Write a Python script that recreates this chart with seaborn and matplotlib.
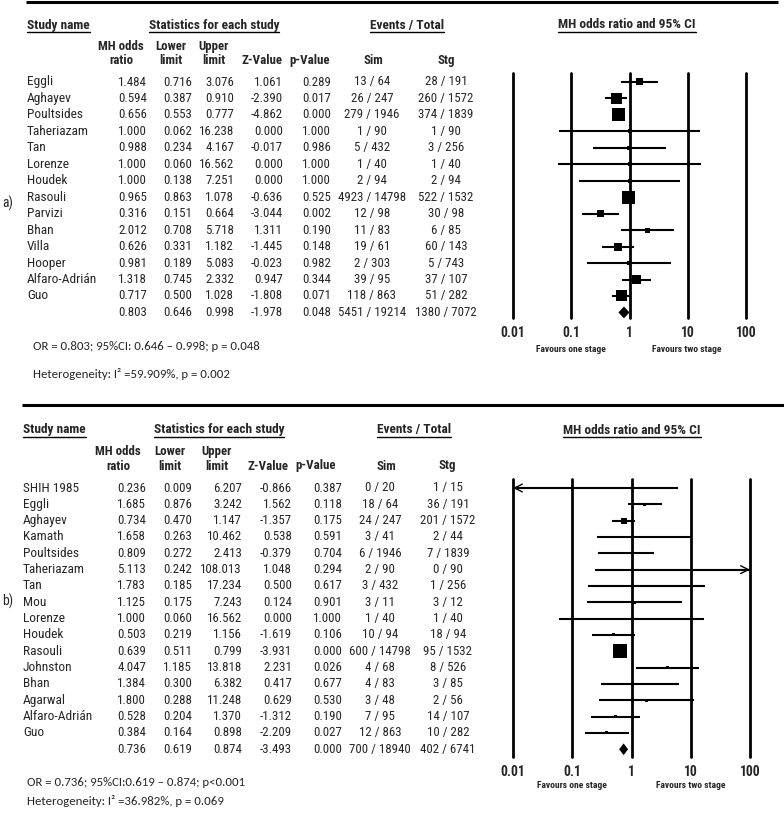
import matplotlib
matplotlib.use('Agg')
import matplotlib.pyplot as plt
import seaborn as sns

## ==============================
## 데이터 (a: 전체, b: 두 번째 분석)
names_a = ['Eggli', 'Aghayev', 'Poultsides', 'Taheriazam', 'Tan', 'Lorenze', 'Houdek',
           'Rasouli', 'Parvizi', 'Bhan', 'Villa', 'Hooper', 'Alfaro-Adrián', 'Guo']
or_a = [1.484, 0.594, 0.656, 1.000, 0.988, 1.000, 1.000, 0.965, 0.316, 2.012, 0.626, 0.981, 1.318, 0.717]
lo_a = [0.716, 0.387, 0.553, 0.062, 0.234, 0.060, 0.138, 0.863, 0.151, 0.708, 0.331, 0.189, 0.745, 0.500]
hi_a = [3.076, 0.910, 0.777, 16.238, 4.167, 16.562, 7.251, 1.078, 0.664, 5.718, 1.182, 5.083, 2.332, 1.028]
z_a = [1.061, -2.390, -4.862, 0.000, -0.017, 0.000, 0.000, -0.636, -3.044, 1.311, -1.445, -0.023, 0.947, -1.808]
p_a = [0.289, 0.017, 0.000, 1.000, 0.986, 1.000, 1.000, 0.525, 0.002, 0.190, 0.148, 0.982, 0.344, 0.071]
sim_a = ['13 / 64', '26 / 247', '279 / 1946', '1 / 90', '5 / 432', '1 / 40', '2 / 94', '4923 / 14798',
         '12 / 98', '11 / 83', '19 / 61', '2 / 303', '39 / 95', '118 / 863']
stg_a = ['28 / 191', '260 / 1572', '374 / 1839', '1 / 90', '3 / 256', '1 / 40', '2 / 94', '522 / 1532',
         '30 / 98', '6 / 85', '60 / 143', '5 / 743', '37 / 107', '51 / 282']
pooled_a = [0.803, 0.646, 0.998, -1.978, 0.048]
pooled_ev_a = ['5451 / 19214', '1380 / 7072']
note_a = ['OR = 0.803; 95%CI: 0.646 – 0.998; p = 0.048', 'Heterogeneity: I² =59.909%, p = 0.002']

names_b = ['SHIH 1985', 'Eggli', 'Aghayev', 'Kamath', 'Poultsides', 'Taheriazam', 'Tan', 'Mou', 'Lorenze',
           'Houdek', 'Rasouli', 'Johnston', 'Bhan', 'Agarwal', 'Alfaro-Adrián', 'Guo']
or_b = [0.236, 1.685, 0.734, 1.658, 0.809, 5.113, 1.783, 1.125, 1.000, 0.503, 0.639, 4.047, 1.384, 1.800, 0.528, 0.384]
lo_b = [0.009, 0.876, 0.470, 0.263, 0.272, 0.242, 0.185, 0.175, 0.060, 0.219, 0.511, 1.185, 0.300, 0.288, 0.204, 0.164]
hi_b = [6.207, 3.242, 1.147, 10.462, 2.413, 108.013, 17.234, 7.243, 16.562, 1.156, 0.799, 13.818, 6.382, 11.248, 1.370, 0.898]
z_b = [-0.866, 1.562, -1.357, 0.538, -0.379, 1.048, 0.500, 0.124, 0.000, -1.619, -3.931, 2.231, 0.417, 0.629, -1.312, -2.209]
p_b = [0.387, 0.118, 0.175, 0.591, 0.704, 0.294, 0.617, 0.901, 1.000, 0.106, 0.000, 0.026, 0.677, 0.530, 0.190, 0.027]
sim_b = ['0 / 20', '18 / 64', '24 / 247', '3 / 41', '6 / 1946', '2 / 90', '3 / 432', '3 / 11', '1 / 40',
         '10 / 94', '600 / 14798', '4 / 68', '4 / 83', '3 / 48', '7 / 95', '12 / 863']
stg_b = ['1 / 15', '36 / 191', '201 / 1572', '2 / 44', '7 / 1839', '0 / 90', '1 / 256', '3 / 12', '1 / 40',
         '18 / 94', '95 / 1532', '8 / 526', '3 / 85', '2 / 56', '14 / 107', '10 / 282']
pooled_b = [0.736, 0.619, 0.874, -3.493, 0.000]
pooled_ev_b = ['700 / 18940', '402 / 6741']
note_b = ['OR = 0.736; 95%CI:0.619 – 0.874; p<0.001', 'Heterogeneity: I² =36.982%, p = 0.069']

# 가중치에 해당하는 사각형 크기 (px, 그림에서 읽음)
box_a = [7, 11, 13, 4, 4, 4, 4, 13, 7, 5, 8, 4, 9, 11]
box_b = [2, 3, 6, 2, 2, 2, 2, 3, 2, 3, 14, 3, 2.5, 3, 3, 3]

ticks = [0.01, 0.1, 1, 10, 100]
tick_labels = ['0.01', '0.1', '1', '10', '100']
col_top = ['MH odds', 'Lower', 'Upper', '', '', '', '']
col_bot = ['ratio', 'limit', 'limit', 'Z-Value', 'p-Value', 'Sim', 'Stg']
heads = ['Study name', 'Statistics for each study', 'Events / Total', 'MH odds ratio and 95% CI']
favours = ['Favours one stage', 'Favours two stage']

## ==============================
## 스타일 / 폰트
sns.set_style('white')
FONT = 'Roboto Condensed'
NOTE_FONT = ['Carlito', 'DejaVu Sans']
plt.rcParams['font.family'] = [FONT, 'DejaVu Sans']
FS = 9.3

W, H = 784, 815
fig = plt.figure(figsize=(W / 100, H / 100), dpi=100)
ov = fig.add_axes([0, 0, 1, 1])
ov.set_xlim(0, W)
ov.set_ylim(H, 0)
ov.axis('off')

underlined = []


def panel(names, ors, los, his, zs, ps, sims, stgs, pooled, pooled_ev, boxes, notes, L):
    rows = len(names)
    y0, dy = L['y0'], L['dy']
    ry = [y0 + dy * i for i in range(rows + 1)]

    # 상단 굵은 선
    ov.plot(L['rule_x'], [L['rule_y']] * 2, color='black', lw=2.2, solid_capstyle='butt')

    # 헤더
    hy = L['head_y']
    for txt, x, ha in zip(heads, L['head_x'], ['left', 'center', 'center', 'center']):
        t = ov.text(x, hy, txt, ha=ha, va='center', fontsize=FS + 0.3, fontweight='bold')
        underlined.append(t)
    for top, bot, x in zip(col_top, col_bot, L['col_x']):
        if top:
            ov.text(x, L['col_y'][0], top, ha='center', va='center', fontsize=FS, fontweight='bold')
        ov.text(x, L['col_y'][1], bot, ha='center', va='center', fontsize=FS, fontweight='bold')

    # 표 내용
    rx = L['num_x']
    for i in range(rows + 1):
        if i < rows:
            vals = [ors[i], los[i], his[i], zs[i], ps[i]]
            ev = [sims[i], stgs[i]]
            ov.text(L['name_x'], ry[i], names[i], ha='left', va='center', fontsize=FS + 0.3)
        else:
            vals = pooled
            ev = pooled_ev
        for v, x in zip(vals, rx):
            ov.text(x, ry[i], f'{v:.3f}', ha='right', va='center', fontsize=FS)
        for e, x in zip(ev, L['ev_x']):
            ov.text(x, ry[i], e, ha='center', va='center', fontsize=FS)

    ov.text(2, L['lab_y'], L['lab'], ha='left', va='center', fontsize=FS + 0.5)
    for txt, y in zip(notes, L['note_y']):
        ov.text(L['note_x'], y, txt, ha='left', va='center', fontsize=9.2, family=NOTE_FONT)

    # forest plot
    px0, px1, pt, pb = L['plot_px']
    fa = fig.add_axes([px0 / W, 1 - pb / H, (px1 - px0) / W, (pb - pt) / H])
    fa.set_facecolor('none')
    fa.set_xscale('log')
    for s in fa.spines.values():
        s.set_visible(False)
    for t in ticks:
        fa.axvline(t, color='black', lw=2.0, clip_on=False, zorder=1)

    for i in range(rows):
        a, b = max(los[i], ticks[0]), min(his[i], ticks[-1])
        fa.plot([a, b], [i, i], color='black', lw=1.5, clip_on=False, zorder=2,
                solid_capstyle='butt')
        if los[i] < ticks[0]:
            fa.annotate('', xy=(ticks[0], i), xytext=(ticks[0] * 1.6, i),
                        arrowprops=dict(arrowstyle='->', lw=1.0, color='black',
                                        shrinkA=0, shrinkB=0, mutation_scale=14),
                        annotation_clip=False)
        if his[i] > ticks[-1]:
            fa.annotate('', xy=(ticks[-1], i), xytext=(ticks[-1] / 1.6, i),
                        arrowprops=dict(arrowstyle='->', lw=1.0, color='black',
                                        shrinkA=0, shrinkB=0, mutation_scale=14),
                        annotation_clip=False)

    sns.scatterplot(x=ors, y=list(range(rows)), marker='s', color='black',
                    s=[(b * 0.72) ** 2 for b in boxes], linewidth=0, ax=fa, zorder=3,
                    legend=False)

    # 요약 다이아몬드
    hh = 0.36
    fa.fill([pooled[1], pooled[0], pooled[2], pooled[0]],
            [rows, rows - hh, rows, rows + hh], color='black', zorder=3, lw=0)

    fa.set_xlim(ticks[0], ticks[-1])
    fa.set_ylim((pb - y0) / dy, (pt - y0) / dy)
    fa.set_yticks([])
    fa.set_xticks(ticks)
    fa.set_xticklabels(tick_labels, fontsize=FS + 0.5, fontweight='bold')
    fa.xaxis.set_minor_locator(matplotlib.ticker.NullLocator())
    fa.tick_params(axis='x', length=0, pad=L['pad'])
    fa.set_xlabel('')
    fa.set_ylabel('')

    for txt, x in zip(favours, L['fav_x']):
        ov.text(x, L['fav_y'], txt, ha='center', va='center', fontsize=6.8, fontweight='bold')


layout_a = dict(y0=82, dy=16.46, rule_x=[26, 778], rule_y=1.5, head_y=25,
                head_x=[27, 214, 407, 627], col_x=[121, 171, 214, 262, 310, 373, 446], col_y=[46.5, 60.5],
                name_x=27, num_x=[147, 192, 234, 283, 331], ev_x=[372, 446],
                lab='a)', lab_y=203, note_x=33, note_y=[347, 374],
                plot_px=[513, 746, 73, 318], pad=6, fav_x=[571, 687], fav_y=350)
layout_b = dict(y0=488, dy=16.33, rule_x=[22, 784], rule_y=405, head_y=430,
                head_x=[23, 219, 414, 632], col_x=[118, 170, 217, 268, 316, 386, 447], col_y=[451.5, 466],
                name_x=23, num_x=[146, 192, 242, 292, 342], ev_x=[380, 448],
                lab='b)', lab_y=601, note_x=27, note_y=[782, 801],
                plot_px=[513, 750, 479, 757], pad=6, fav_x=[572, 691], fav_y=786)

panel(names_a, or_a, lo_a, hi_a, z_a, p_a, sim_a, stg_a, pooled_a, pooled_ev_a, box_a, note_a, layout_a)
panel(names_b, or_b, lo_b, hi_b, z_b, p_b, sim_b, stg_b, pooled_b, pooled_ev_b, box_b, note_b, layout_b)

# 헤더 밑줄
fig.canvas.draw()
rend = fig.canvas.get_renderer()
inv = ov.transData.inverted()
for t in underlined:
    bb = t.get_window_extent(rend)
    (x0, yb), (x1, _) = inv.transform([[bb.x0, bb.y0], [bb.x1, bb.y1]])
    ov.plot([x0, x1], [yb + 0.5, yb + 0.5], color='black', lw=1.0)

fig.savefig('out.png', dpi=100)
